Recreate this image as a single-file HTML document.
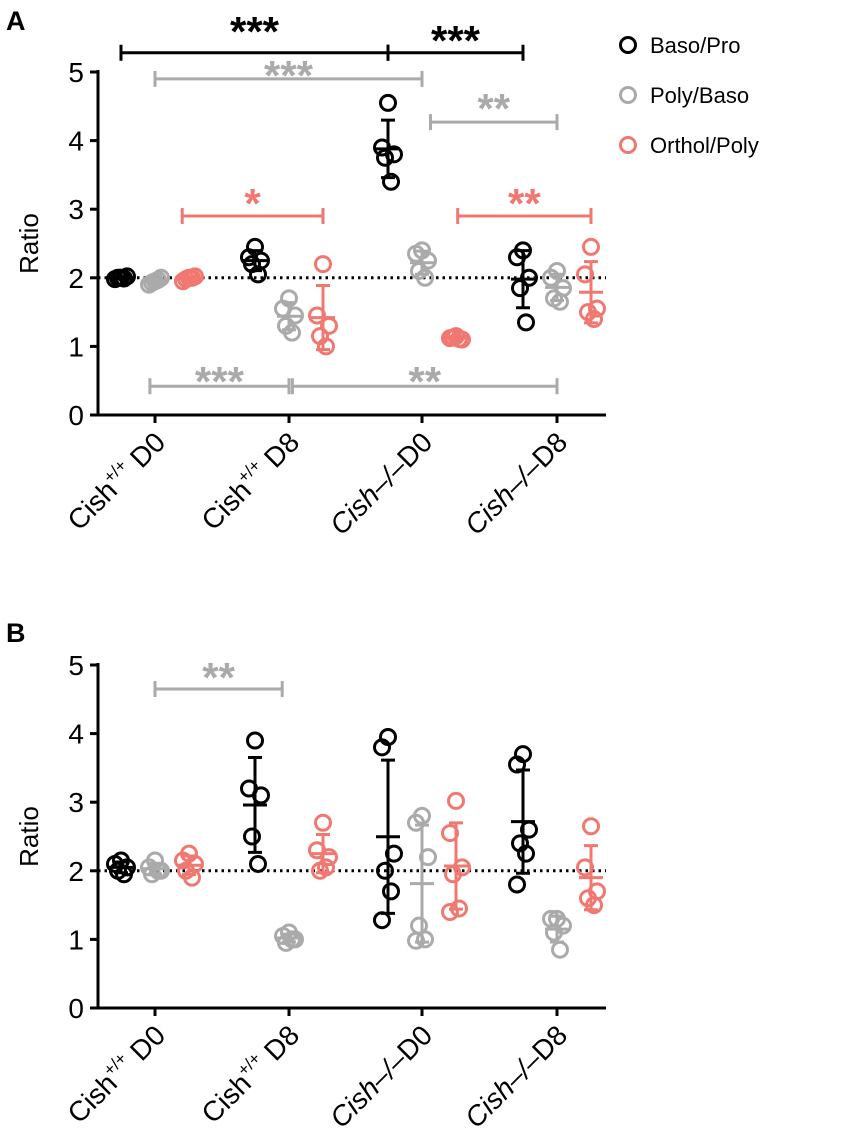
<!DOCTYPE html>
<html><head><meta charset="utf-8"><style>
body{margin:0;background:#fff}
svg{display:block;font-family:"Liberation Sans",Arial,sans-serif}
</style></head><body>
<svg id="chart" width="851" height="1146" viewBox="0 0 851 1146" xmlns="http://www.w3.org/2000/svg">
<text x="6" y="30" font-size="27" font-weight="bold">A</text>
<text x="6" y="642" font-size="27" font-weight="bold">B</text>
<g>
<circle cx="628" cy="45" r="7.5" fill="none" stroke="#000" stroke-width="3"/>
<text x="650" y="53" font-size="22">Baso/Pro</text>
<circle cx="628" cy="95" r="7.5" fill="none" stroke="#aaa" stroke-width="3"/>
<text x="650" y="103" font-size="22">Poly/Baso</text>
<circle cx="628" cy="145" r="7.5" fill="none" stroke="#f07870" stroke-width="3"/>
<text x="650" y="153" font-size="22">Orthol/Poly</text>
</g>
</svg>
<script>
const categories = ["D0wt","D8wt","D0ko","D8ko"];
const seriesNames = ["Baso/Pro","Poly/Baso","Orthol/Poly"];
// Panel A values
const aBaso = [[2.0,1.98,2.02,2.0,1.99],[2.45,2.3,2.25,2.2,2.05],[4.55,3.9,3.8,3.75,3.4],[2.4,2.3,2.0,1.85,1.35]];
const aPoly = [[1.95,1.9,2.0,1.93,1.97],[1.7,1.55,1.45,1.3,1.2],[2.4,2.35,2.25,2.1,2.0],[2.1,2.0,1.85,1.7,1.65]];
const aOrth = [[2.0,1.95,2.02,1.98,2.0],[2.2,1.45,1.3,1.15,1.0],[1.15,1.12,1.1,1.13,1.11],[2.45,2.05,1.55,1.5,1.4]];
// Panel B values
const bBaso = [[2.15,2.1,2.05,2.0,1.95],[3.9,3.2,3.1,2.5,2.1],[3.95,3.8,2.25,2.0,1.7,1.28],[3.7,3.55,2.6,2.4,2.25,1.8]];
const bPoly = [[2.15,2.05,2.0,1.95,2.0],[1.1,1.05,1.0,0.95,1.0],[2.8,2.7,2.2,1.2,1.0,0.98],[1.3,1.3,1.2,1.1,0.85]];
const bOrth = [[2.25,2.15,2.1,2.0,1.9],[2.7,2.3,2.2,2.0,2.05],[3.02,2.55,2.05,1.95,1.45,1.4],[2.65,2.05,1.7,1.6,1.5]];
const yTicks = [0,1,2,3,4,5];
// significance brackets: [cat-from, series-from, cat-to, series-to, bracket value, label, color, label value]
const aSig = [[0,0,2,0,5.28,"***","#000",5.67],[2,0,3,0,5.28,"***","#000",5.54],[0,1,2,1,4.9,"***","#aaa",5.03],[2,1.25,3,1,4.27,"**","#aaa",4.55],[0,1.8,1,2,2.9,"*","#f07870",3.16],[2,2.05,3,2,2.9,"**","#f07870",3.16],[0,0.85,1,1,0.42,"***","#aaa",0.57],[1,1.1,3,1,0.42,"**","#aaa",0.57]];
const bSig = [[0,1,1,0.8,4.65,"**","#aaa",4.9]];

const svg=document.getElementById('chart');
const NS="http://www.w3.org/2000/svg";
const colors=["#000","#aaa","#f07870"];
const X0=98,X1=606,catX=[155,289,422,557],off=34;
const jit=[0,-6,6,-3,3,-6];
function mk(t,a,p){const e=document.createElementNS(NS,t);for(const k in a)e.setAttribute(k,a[k]);(p||svg).appendChild(e);return e;}
function panel(top0,data,sig,pname){
  const y=v=>top0-v*68.6;
  const xs=(c,s)=>catX[c]+(s-1)*off;
  const g=mk('g',{});
  
  
  const ax=mk('line',{x1:X0,y1:y(5)-2,x2:X0,y2:top0+1.5,stroke:'#000','stroke-width':3},g);
  
  
  const xa=mk('line',{x1:X0-1.5,y1:top0,x2:X1,y2:top0,stroke:'#000','stroke-width':3},g);
  
  
  yTicks.forEach(t=>{
    const tl=mk('line',{x1:X0-8,y1:y(t),x2:X0,y2:y(t),stroke:'#000','stroke-width':3},g);
    
    
    const tx=mk('text',{x:X0-14,y:y(t)+10,'font-size':28,'text-anchor':'end'},g);tx.textContent=t;
    
    
  });
  const yl=mk('text',{x:0,y:0,'font-size':26,'text-anchor':'middle',transform:`translate(38,${y(2.5)}) rotate(-90)`},g);
  yl.textContent='Ratio';
  
  
  const labels=[["Cish","+/+"," D0",false],["Cish","+/+"," D8",false],["Cish","–/–","D0",true],["Cish","–/–","D8",true]];
  catX.forEach((cx,i)=>{
    const tk=mk('line',{x1:cx,y1:top0,x2:cx,y2:top0+8,stroke:'#000','stroke-width':3},g);
    
    
    const t=mk('text',{x:0,y:0,'font-size':28,'text-anchor':'end',transform:`translate(${cx+12},${top0+29}) rotate(-45)`},g);
    
    
    const L=labels[i];
    if(L[3]){const a=mk('tspan',{'font-style':'italic'},t);a.textContent=L[0]+L[1];const b=mk('tspan',{},t);b.textContent=L[2];}
    else{const a=mk('tspan',{},t);a.textContent=L[0];const b=mk('tspan',{'font-size':17,dy:-12},t);b.textContent=L[1];const c=mk('tspan',{dy:12},t);c.textContent=L[2];}
  });
  const ref=mk('line',{x1:X0,y1:y(2),x2:X1,y2:y(2),stroke:'#000','stroke-width':3,'stroke-dasharray':'2.5 4'},g);
  
  
  data.forEach((ser,s)=>{
    ser.forEach((vals,c)=>{
      const cx=xs(c,s),col=colors[s];
      const m=vals.reduce((a,b)=>a+b,0)/vals.length;
      const sd=Math.sqrt(vals.reduce((a,b)=>a+(b-m)*(b-m),0)/(vals.length-1));
      vals.forEach((v,k)=>{
        const p=mk('circle',{cx:cx+jit[k%jit.length],cy:y(v),r:7.5,fill:'none',stroke:col,'stroke-width':3},g);
        
        
      });
      const eb=mk('path',{d:`M${cx},${y(m+sd)}V${y(m-sd)}M${cx-7},${y(m+sd)}H${cx+7}M${cx-7},${y(m-sd)}H${cx+7}M${cx-12},${y(m)}H${cx+12}`,stroke:col,'stroke-width':3,fill:'none'},g);
      
      
    });
  });
  sig.forEach(b=>{
    const x1=xs(b[0],b[1]),x2=xs(b[2],b[3]),yy=y(b[4]);
    const br=mk('path',{d:`M${x1},${yy-8}V${yy+8}M${x1},${yy}H${x2}M${x2},${yy-8}V${yy+8}`,stroke:b[6],'stroke-width':3,fill:'none'},g);
    
    
    const st=mk('text',{x:(x1+x2)/2,y:y(b[7])+20,'font-size':42,'font-weight':'bold','text-anchor':'middle',fill:b[6]},g);
    st.textContent=b[5];
    
    
  });
}
panel(415,[aBaso,aPoly,aOrth],aSig,'panel-a');
panel(1008,[bBaso,bPoly,bOrth],bSig,'panel-b');
</script>
</body></html>
